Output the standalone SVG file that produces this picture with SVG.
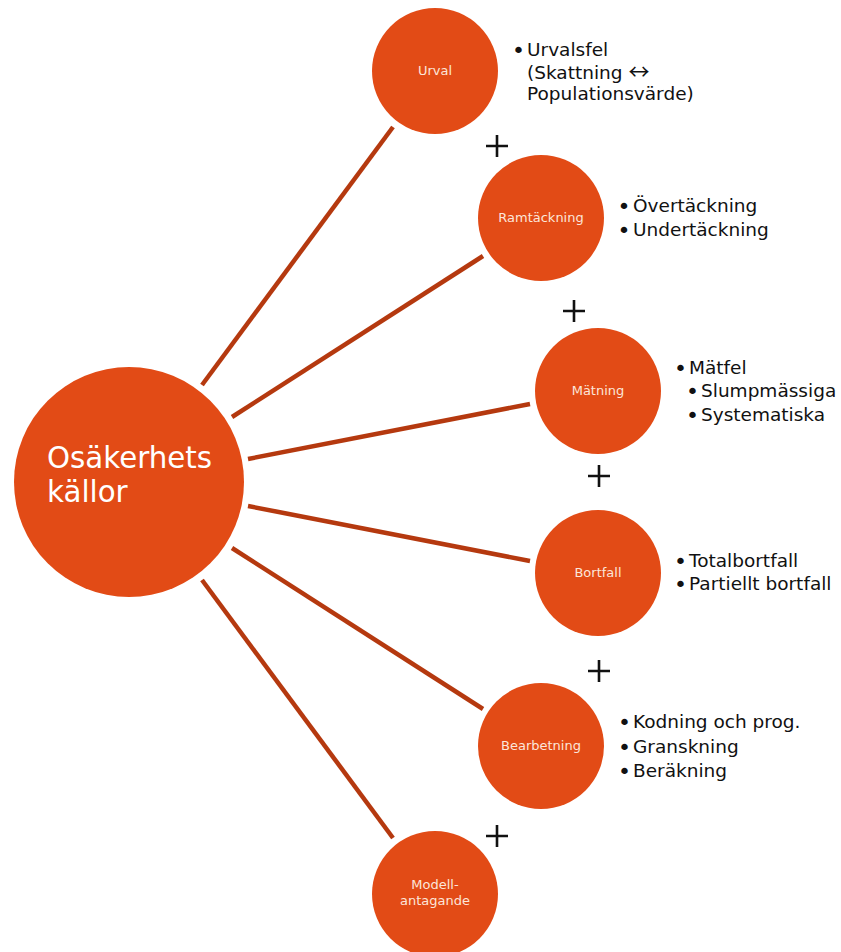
<svg xmlns="http://www.w3.org/2000/svg" width="841" height="952" viewBox="0 0 841 952">
<style>
.n{fill:#E24B16}
.c{stroke:#B5390F;stroke-width:4.5;stroke-linecap:butt;fill:none}
.lbl{font-family:"DejaVu Sans",Verdana,sans-serif;font-size:13px;fill:#FCE6DA;text-anchor:middle}
.big{font-family:"DejaVu Sans",Verdana,sans-serif;font-size:29.3px;fill:#FFFFFF}
.t{font-family:"DejaVu Sans",Verdana,sans-serif;font-size:18.5px;fill:#111111}
.b{font-family:"DejaVu Sans",Verdana,sans-serif;font-size:22px;fill:#111111;text-anchor:middle}
.ar{font-family:"Noto Sans CJK SC","DejaVu Sans",sans-serif;font-size:21px}
.p{stroke:#111111;stroke-width:2.6;fill:none}
</style>
<rect width="841" height="952" fill="#FFFFFF"/>
<g id="connectors">
<line class="c" x1="202" y1="385" x2="393" y2="127"/>
<line class="c" x1="232" y1="417" x2="483" y2="256"/>
<line class="c" x1="248" y1="459" x2="530" y2="404"/>
<line class="c" x1="248" y1="506" x2="530" y2="561"/>
<line class="c" x1="232" y1="548" x2="483" y2="709"/>
<line class="c" x1="202" y1="580" x2="393" y2="838"/>
</g>
<g id="center">
<circle class="n" cx="129" cy="482" r="115"/>
<text class="big" x="47" y="468">Osäkerhets</text>
<text class="big" x="47" y="502">källor</text>
</g>
<g id="urval">
<circle class="n" cx="435" cy="71" r="63"/>
<text class="lbl" x="435" y="75">Urval</text>
</g>
<g id="urval-text">
<text class="b" x="518.5" y="57.5">•</text>
<text class="t" x="527" y="56">Urvalsfel</text>
<text class="t" x="527" y="79">(Skattning <tspan class="ar">↔</tspan></text>
<text class="t" x="527" y="100">Populationsvärde)</text>
</g>
<g id="ramtackning">
<circle class="n" cx="541" cy="218" r="63"/>
<text class="lbl" x="541" y="222">Ramtäckning</text>
</g>
<g id="ramtackning-text">
<text class="b" x="624" y="213.5">•</text>
<text class="t" x="633" y="212">Övertäckning</text>
<text class="b" x="624" y="237.5">•</text>
<text class="t" x="633" y="236">Undertäckning</text>
</g>
<g id="matning">
<circle class="n" cx="598" cy="391" r="63"/>
<text class="lbl" x="598" y="395">Mätning</text>
</g>
<g id="matning-text">
<text class="b" x="680.5" y="375.5">•</text>
<text class="t" x="689" y="374">Mätfel</text>
<text class="b" x="692.5" y="398.5">•</text>
<text class="t" x="701" y="397">Slumpmässiga</text>
<text class="b" x="692.5" y="422.5">•</text>
<text class="t" x="701" y="421">Systematiska</text>
</g>
<g id="bortfall">
<circle class="n" cx="598" cy="573" r="63"/>
<text class="lbl" x="598" y="577">Bortfall</text>
</g>
<g id="bortfall-text">
<text class="b" x="680.5" y="568.5">•</text>
<text class="t" x="689" y="567">Totalbortfall</text>
<text class="b" x="680.5" y="591.5">•</text>
<text class="t" x="689" y="590">Partiellt bortfall</text>
</g>
<g id="bearbetning">
<circle class="n" cx="541" cy="746" r="63"/>
<text class="lbl" x="541" y="750">Bearbetning</text>
</g>
<g id="bearbetning-text">
<text class="b" x="624.5" y="729.5">•</text>
<text class="t" x="633" y="728">Kodning och prog.</text>
<text class="b" x="624.5" y="754.5">•</text>
<text class="t" x="633" y="753">Granskning</text>
<text class="b" x="624.5" y="778.5">•</text>
<text class="t" x="633" y="777">Beräkning</text>
</g>
<g id="modellantagande">
<circle class="n" cx="435" cy="894" r="63"/>
<text class="lbl" x="435" y="889">Modell-</text>
<text class="lbl" x="435" y="905">antagande</text>
</g>
<g id="plus-signs">
<path class="p" d="M486,146h22M497,135v22"/>
<path class="p" d="M563,311h22M574,300v22"/>
<path class="p" d="M588,476h22M599,465v22"/>
<path class="p" d="M588,671h22M599,660v22"/>
<path class="p" d="M486,836h22M497,825v22"/>
</g>
</svg>
